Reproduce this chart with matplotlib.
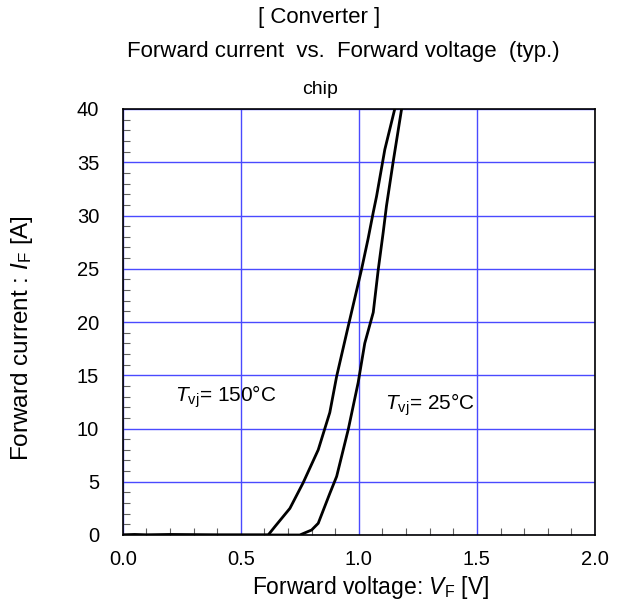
import matplotlib
matplotlib.use('Agg')
import matplotlib.pyplot as plt
from matplotlib.ticker import MultipleLocator

plt.rcParams['font.family'] = ['Liberation Sans', 'DejaVu Sans']
plt.rcParams['mathtext.fontset'] = 'custom'
plt.rcParams['mathtext.rm'] = 'Liberation Sans'
plt.rcParams['mathtext.it'] = 'Liberation Sans:italic'

# -------------------- DATA --------------------
# Tvj = 150 degC
vf_150 = [0.0, 0.05, 0.10, 0.20, 0.40, 0.60, 0.616, 0.645, 0.708, 0.764, 0.828,
          0.877, 0.906, 0.955, 1.011, 1.039, 1.061, 1.075, 1.110, 1.152]
if_150 = [0.0, 0.05, 0.0, 0.05, 0.0, 0.0, 0.0, 0.8, 2.5, 4.9, 8.0,
          11.5, 14.9, 19.6, 24.9, 27.8, 30.3, 31.8, 36.2, 40.0]

# Tvj = 25 degC
vf_25 = [0.0, 0.30, 0.60, 0.75, 0.80, 0.828, 0.877, 0.906, 0.955, 0.997,
         1.025, 1.061, 1.082, 1.103, 1.117, 1.145, 1.181]
if_25 = [0.0, 0.0, 0.0, 0.0, 0.47, 1.1, 3.9, 5.5, 9.9, 14.3,
         18.0, 20.9, 24.9, 28.4, 30.9, 35.0, 40.0]

x_ticks = [0.0, 0.5, 1.0, 1.5, 2.0]
y_ticks = [0, 5, 10, 15, 20, 25, 30, 35, 40]

# -------------------- FIGURE --------------------
fig = plt.figure(figsize=(6.29, 6.05), dpi=100)
ax = fig.add_axes([122.7 / 629, 1 - 535 / 605, (595 - 122.7) / 629, (535 - 109) / 605])

ax.plot(vf_150, if_150, color='black', lw=2.0)
ax.plot(vf_25, if_25, color='black', lw=2.0)

ax.set_xlim(0, 2.0)
ax.set_ylim(0, 40)
ax.set_xticks(x_ticks)
ax.set_yticks(y_ticks)
ax.set_xticklabels(['%.1f' % v for v in x_ticks])
ax.xaxis.set_minor_locator(MultipleLocator(0.1))
ax.yaxis.set_minor_locator(MultipleLocator(1))
ax.tick_params(which='both', direction='in', labelsize=14.5, color='#606060')
ax.tick_params(axis='x', which='major', length=0, pad=11)
ax.tick_params(axis='y', which='major', length=0, pad=17)
ax.tick_params(which='minor', length=5, width=0.8)
ax.grid(True, which='major', color='#4a4aff', lw=1.0)
ax.set_axisbelow(True)
for s in ax.spines.values():
    s.set_linewidth(1.2)

ax.set_xlabel(r'Forward voltage: $V$$_{\mathrm{F}}$ [V]', fontsize=16.5)
ax.set_ylabel(r'Forward current : $I$$_{\mathrm{F}}$ [A]', fontsize=17.5)
ax.xaxis.set_label_coords(0.526, -0.092)
ax.yaxis.set_label_coords(-0.186, 0.462)

ax.text(0.22, 13.0, r'$T$$_{\mathrm{vj}}$= 150°C', fontsize=15, va='center')
ax.text(1.11, 12.2, r'$T$$_{\mathrm{vj}}$= 25°C', fontsize=15, va='center')

fig.text(319 / 629, 1 - 17 / 605, '[ Converter ]', ha='center', va='center', fontsize=16)
fig.text(343 / 629, 1 - 52 / 605, 'Forward current  vs.  Forward voltage  (typ.)',
         ha='center', va='center', fontsize=16)
fig.text(320 / 629, 1 - 89 / 605, 'chip', ha='center', va='center', fontsize=14)

plt.savefig('out.png', dpi=100)
plt.close()
